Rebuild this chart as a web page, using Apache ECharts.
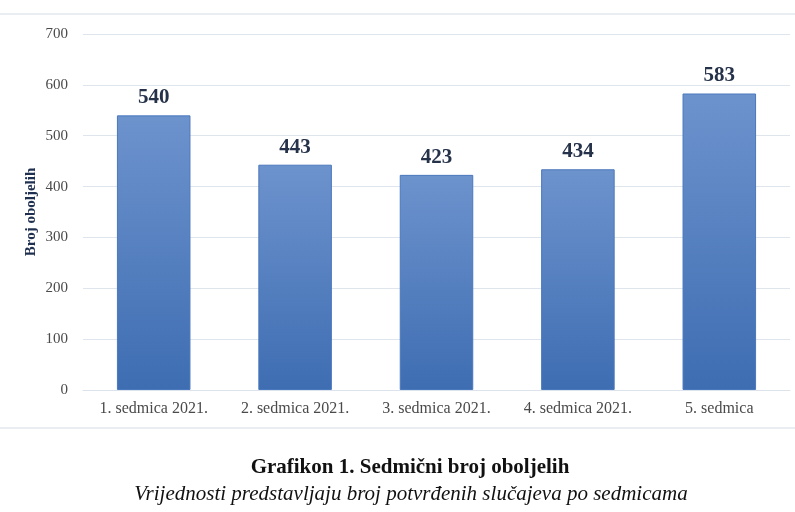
<!DOCTYPE html>
<html>
<head>
<meta charset="utf-8">
<script src="https://cdn.jsdelivr.net/npm/echarts@6/dist/echarts.min.js"></script>
<style>
  html, body { margin: 0; padding: 0; background: #fff; }
  #chart { width: 795px; height: 512px; }
</style>
</head>
<body>
<div id="chart"></div>
<script>
const categories = ['1. sedmica 2021.', '2. sedmica 2021.', '3. sedmica 2021.', '4. sedmica 2021.', '5. sedmica'];
const cases = [540, 443, 423, 434, 583];
const yTicks = [0, 100, 200, 300, 400, 500, 600, 700];

const serif = '"Liberation Serif", "DejaVu Serif", serif';
const chart = echarts.init(document.getElementById('chart'));

chart.setOption({
  animation: false,
  textStyle: { fontFamily: serif },
  title: [
    {
      text: 'Grafikon 1. Sedmični broj oboljelih',
      left: 405, top: 452, textAlign: 'center',
      textStyle: { fontFamily: serif, fontSize: 21, fontWeight: 'bold', color: '#111' }
    },
    {
      text: 'Vrijednosti predstavljaju broj potvrđenih slučajeva po sedmicama',
      left: 406, top: 479, textAlign: 'center',
      textStyle: { fontFamily: serif, fontSize: 21, fontStyle: 'italic', fontWeight: 'normal', color: '#111' }
    }
  ],
  graphic: [
    { type: 'line', shape: { x1: 0, y1: 14, x2: 795, y2: 14 }, style: { stroke: '#e3e8ee', lineWidth: 1.5 } },
    { type: 'line', shape: { x1: 0, y1: 428, x2: 795, y2: 428 }, style: { stroke: '#e3e8ee', lineWidth: 1.5 } }
  ],
  grid: { left: 83, right: 5, top: 34, bottom: 122 },
  xAxis: {
    type: 'category',
    data: categories,
    axisLine: { show: true, lineStyle: { color: '#dde3ea' } },
    axisTick: { show: false },
    axisLabel: { color: '#4a4a4a', fontSize: 16, fontFamily: serif, margin: 11 }
  },
  yAxis: {
    type: 'value',
    min: yTicks[0],
    max: yTicks[yTicks.length - 1],
    interval: 100,
    name: 'Broj oboljelih',
    nameLocation: 'middle',
    nameGap: 44,
    nameMoveOverlap: false,
    nameTextStyle: { fontFamily: serif, fontSize: 15, fontWeight: 'bold', color: '#1f2f4f' },
    axisLine: { show: false },
    axisTick: { show: false },
    axisLabel: { color: '#4a4a4a', fontSize: 15, fontFamily: serif, margin: 15 },
    splitLine: { lineStyle: { color: '#dfe5ec', width: 1.2 } }
  },
  series: [
    {
      type: 'bar',
      data: cases,
      barWidth: '52%',
      itemStyle: {
        color: new echarts.graphic.LinearGradient(0, 0, 0, 1, [
          { offset: 0, color: '#6d93cd' },
          { offset: 1, color: '#3e6db2' }
        ]),
        borderColor: '#4a78bd',
        borderWidth: 1
      },
      label: {
        show: true,
        position: 'top',
        distance: 7,
        fontFamily: serif,
        fontSize: 21,
        fontWeight: 'bold',
        color: '#25324a'
      }
    }
  ]
});
</script>
</body>
</html>
